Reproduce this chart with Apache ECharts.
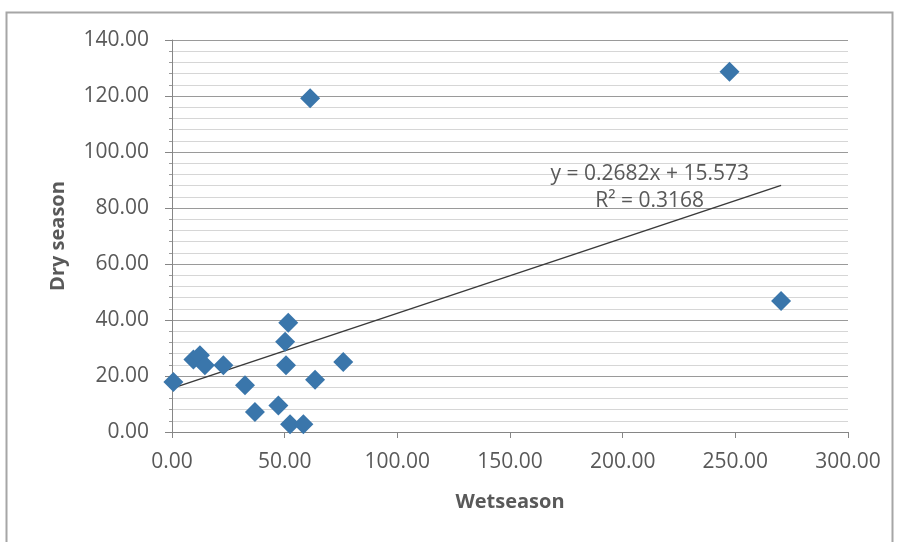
<!DOCTYPE html>
<html>
<head>
<meta charset="utf-8">
<script src="https://cdn.jsdelivr.net/npm/echarts@6/dist/echarts.min.js"></script>
<style>
  html, body { margin: 0; padding: 0; background: #ffffff; }
  #chart { width: 899px; height: 542px; }
</style>
</head>
<body>
<div id="chart"></div>
<script>
// Wet-season vs dry-season values for each site
const wetSeason = [0.6, 9.5, 12.4, 14.6, 22.8, 32.4, 36.8, 47.2, 50.2, 50.6, 51.6, 52.4, 58.3, 61.3, 63.5, 76.0, 247.4, 270.3];
const drySeason = [17.9, 25.9, 27.4, 23.8, 23.8, 16.7, 7.1, 9.5, 32.2, 23.8, 39.0, 2.75, 2.75, 119.2, 18.7, 25.0, 128.7, 46.8];

// Linear trend line coefficients and fit statistic
const slope = 0.2682;
const intercept = 15.573;
const rSquared = 0.3168;

const points = wetSeason.map((x, i) => [x, drySeason[i]]);
const xMax = Math.max(...wetSeason);
const trend = [[0, intercept], [xMax, slope * xMax + intercept]];

const FONT = '"Open Sans", "Liberation Sans", sans-serif';
const TEXT = '#595959';

const frame = {
  type: 'rect',
  shape: { x: 6.5, y: 12.5, width: 886, height: 560 },
  style: { fill: 'none', stroke: '#a6a6a6', lineWidth: 2 },
  silent: true
};

const chart = echarts.init(document.getElementById('chart'), null, { renderer: 'canvas' });
chart.setOption({
  animation: false,
  backgroundColor: '#ffffff',
  grid: { left: 172, right: 51, top: 40, bottom: 110, containLabel: false },
  xAxis: {
    type: 'value',
    min: 0, max: 300, interval: 50,
    name: 'Wetseason',
    nameLocation: 'middle',
    nameGap: 60,
    nameTextStyle: { fontFamily: FONT, fontSize: 20, fontWeight: 'bold', color: TEXT },
    axisLine: { show: true, onZero: false, lineStyle: { color: '#868686', width: 1 } },
    axisTick: { show: true, length: 6, lineStyle: { color: '#868686' } },
    axisLabel: {
      margin: 20, fontFamily: FONT, fontSize: 21, color: TEXT,
      formatter: v => v.toFixed(2)
    },
    splitLine: { show: false }
  },
  yAxis: {
    type: 'value',
    min: 0, max: 140, interval: 20,
    name: 'Dry season',
    nameLocation: 'middle',
    nameGap: 104,
    nameRotate: 90,
    nameTextStyle: { fontFamily: FONT, fontSize: 20, fontWeight: 'bold', color: TEXT },
    axisLine: { show: true, lineStyle: { color: '#868686', width: 1 } },
    axisTick: { show: true, length: 7, lineStyle: { color: '#868686' } },
    minorTick: { show: true, splitNumber: 5, length: 3, lineStyle: { color: '#9a9a9a' } },
    axisLabel: {
      margin: 23, fontFamily: FONT, fontSize: 21, color: TEXT,
      formatter: v => v.toFixed(2)
    },
    splitLine: { show: true, lineStyle: { color: '#9a9a9a', width: 1.2 } },
    minorSplitLine: { show: true, lineStyle: { color: '#d6d6d6', width: 1 } }
  },
  series: [
    {
      name: 'Trend',
      type: 'line',
      data: trend,
      symbol: 'none',
      lineStyle: { color: '#3a3a3a', width: 1.5 },
      z: 3,
      silent: true
    },
    {
      name: 'Sites',
      type: 'scatter',
      data: points,
      symbol: 'diamond',
      symbolSize: [20, 20],
      itemStyle: { color: '#3a76ab', opacity: 1 },
      z: 4
    }
  ]
});

// Trend equation and R² written near the end of the line
const eqPos = chart.convertToPixel({ gridIndex: 0 }, [212, 92]);
chart.setOption({
  graphic: [
    frame,
    {
      type: 'text',
      x: eqPos[0], y: eqPos[1],
      style: {
        text: 'y = ' + slope.toFixed(4) + 'x + ' + intercept.toFixed(3),
        fontFamily: FONT, fontSize: 21, fill: TEXT,
        align: 'center', verticalAlign: 'middle'
      },
      z: 10
    },
    {
      type: 'text',
      x: eqPos[0], y: eqPos[1] + 27,
      style: {
        text: 'R² = ' + rSquared.toFixed(4),
        fontFamily: FONT, fontSize: 21, fill: TEXT,
        align: 'center', verticalAlign: 'middle'
      },
      z: 10
    }
  ]
});
</script>
</body>
</html>
